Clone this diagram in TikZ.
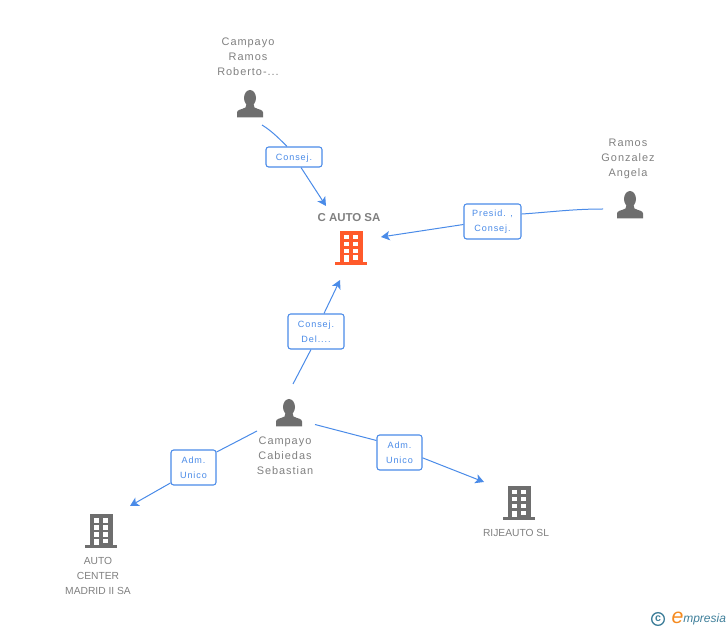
\documentclass[tikz,border=0pt]{standalone}
\usepackage{fontspec}
\setmainfont{Liberation Sans}
\usetikzlibrary{arrows.meta,positioning}
\definecolor{iconGrey}{HTML}{6E6E6E}
\definecolor{textGrey}{HTML}{808080}
\definecolor{linkBlue}{HTML}{4A8BE8}
\definecolor{firmRed}{HTML}{FF5A2B}
\definecolor{logoTeal}{HTML}{3F7F9A}
\definecolor{logoOrange}{HTML}{F58A1F}
\tikzset{every picture/.style={
  >={Stealth[length=6.5pt,width=7pt,inset=1.6pt]}   % Swept blue arrow heads.
  }
}
\tikzset{
  personicon/.pic={
    \fill[iconGrey] (0,-6) ellipse (6 and 8);
    \fill[iconGrey] (-13,13.5) -- (-13,8.5) .. controls (-13,5.5) and (-8,5.5) .. (-4.5,3.5)
      -- (-3.5,0) -- (3.5,0) -- (4.5,3.5) .. controls (8,5.5) and (13,5.5) .. (13,8.5)
      -- (13,13.5) -- cycle;
  },
  buildingicon/.pic={
    \fill[#1] (-11,-17) rectangle (12,14);
    \fill[#1] (-16,14) rectangle (16,17);
    \foreach \y in {-13,-6,1} {
      \fill[white] (-7,\y) rectangle (-2,\y+4.5);
      \fill[white] (2,\y) rectangle (7,\y+4.5);
    }
    \fill[white] (-7,7.5) rectangle (-2,14);
    \fill[white] (2,7.5) rectangle (7,12);
  }
}
\begin{document}
\begin{tikzpicture}[
    x=0.75pt,
    y=-0.75pt,
    person/.style={
      font=\fontsize{8.2pt}{11.25pt}\selectfont\addfontfeatures{LetterSpace=9},
      text=textGrey,
      align=center,
      inner sep=0pt
    },
    firm/.style={
      font=\fontsize{7.7pt}{11.25pt}\selectfont,
      text=textGrey,
      align=center,
      inner sep=0pt
    },
    role/.style={
      draw=linkBlue,
      fill=white,
      rounded corners=2pt,
      line width=0.8pt,
      font=\fontsize{6.8pt}{11.25pt}\selectfont\addfontfeatures{LetterSpace=10},
      text=linkBlue,
      align=center,
      inner sep=0pt,
      minimum width=#1*0.75pt
    },
    link/.style={
      draw=linkBlue,
      line width=0.75pt
    }]

    % Bounding box of the reference.
    \useasboundingbox (0,0) rectangle (728,630);

    % Draw the icons.
    \pic at (250,104) {personicon};
    \pic at (630,205) {personicon};
    \pic at (289,413) {personicon};
    \pic at (351,248) {buildingicon=firmRed};
    \pic at (101,531) {buildingicon=iconGrey};
    \pic at (519,503) {buildingicon=iconGrey};

    % Label the icons.
    \node[person] (roberto) at (248,57) {Campayo\\Ramos\\Roberto-...};
    \node[person] (angela) at (628,158.5) {Ramos\\Gonzalez\\Angela};
    \node[person] (sebastian) at (285,456) {Campayo\\Cabiedas\\Sebastian};
    \node[firm,font=\fontsize{8.6pt}{11.25pt}\selectfont\bfseries] (cauto) at (349,218) {C AUTO SA};
    \node[firm] (madrid) at (98,576) {AUTO\\CENTER\\MADRID II SA};
    \node[firm] (rijeauto) at (516,533) {RIJEAUTO SL};

    % Free ends of the connectors.
    \coordinate (r0) at (262,125);
    \coordinate (r1) at (326,206);
    \coordinate (a0) at (603,209);
    \coordinate (a1) at (381,237);
    \coordinate (s0) at (293,384);
    \coordinate (s1) at (340,280);
    \coordinate (m0) at (257,431);
    \coordinate (m1) at (130,506);
    \coordinate (j0) at (315,424.5);
    \coordinate (j1) at (484,482);

    % Draw the role boxes.
    \node[role=56,minimum height=15pt,text height=7.3pt,text depth=1.5pt] (consej) at (294,157) {Consej.};
    \node[role=57,minimum height=26.25pt] (presid) at (492.5,221.5) {Presid. ,\\Consej.};
    \node[role=56,minimum height=26.25pt] (del) at (316,331.5) {Consej.\\Del....};
    \node[role=45,minimum height=26.25pt] (admm) at (193.5,467.5) {Adm.\\Unico};
    \node[role=45,minimum height=26.25pt] (admr) at (399.5,452.5) {Adm.\\Unico};

    % Link each person to a company through its role.
    \draw[link] (r0) .. controls +(10,6) and +(-6,-6) .. ([xshift=-5.25pt]consej.north);
    \draw[link,->] ([xshift=5.25pt]consej.south) -- (r1);
    \draw[link] (a0) .. controls +(-30,0) and +(30,-2) .. ([yshift=5.6pt]presid.east);
    \draw[link,->] ([yshift=-2.25pt]presid.west) -- (a1);
    \draw[link] (s0) -- ([xshift=-3.75pt]del.south);
    \draw[link,->] ([xshift=6pt]del.north) -- (s1);
    \draw[link] (m0) -- ([yshift=11.6pt]admm.east);
    \draw[link,->] ([yshift=-11.6pt]admm.west) -- (m1);
    \draw[link] (j0) -- ([yshift=9pt]admr.west);
    \draw[link,->] ([yshift=-4pt]admr.east) -- (j1);

    % Logo in the corner.
    \node[circle,draw=logoTeal,line width=1pt,inner sep=0pt,minimum size=9.5pt,
      text=logoTeal,font=\fontsize{8pt}{8pt}\selectfont\bfseries] (logoc) at (658,619) {c};
    \node[inner sep=0pt,text=logoOrange,font=\fontsize{16pt}{16pt}\selectfont\itshape] (logoe) at (677.5,617.5) {e};
    \node[inner sep=0pt,text=logoTeal,anchor=base west,
      font=\fontsize{9pt}{10pt}\selectfont\itshape] (logo) at (683,622) {mpresia};
  \end{tikzpicture}
\end{document}
